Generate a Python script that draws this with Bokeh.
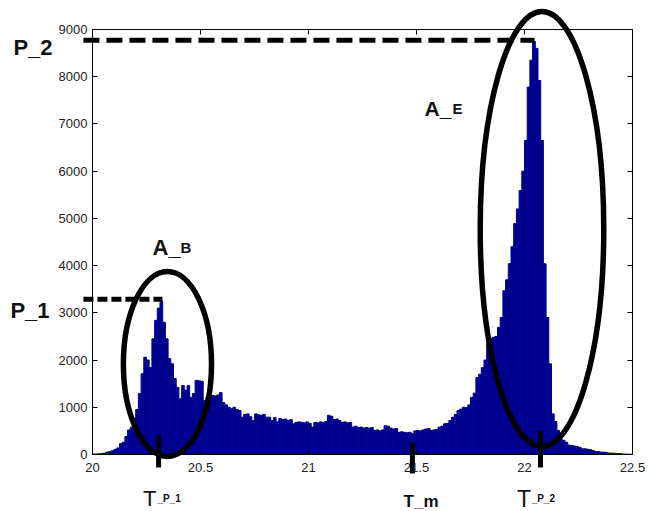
import numpy as np
from bokeh.plotting import figure
from bokeh.models import FixedTicker, LinearAxis, Label, Range1d
from bokeh.embed import file_html
from bokeh.resources import INLINE

# ---------------- data ----------------
bin_start = 20.0
bin_width = 0.0125
counts = [
    10, 10, 15, 20, 30, 50, 60, 80, 110, 140,
    230, 260, 380, 520, 580, 760, 950, 1290, 1710, 2060,
    2000, 1840, 2450, 2840, 3100, 3250, 2800, 2450, 2030, 1920,
    1610, 1420, 1180, 1460, 1360, 1460, 1210, 1290, 1570, 1560,
    1550, 1140, 1210, 1230, 1250, 1240, 1260, 1310, 1100, 1050,
    1000, 970, 1000, 950, 930, 790, 850, 860, 800, 720,
    860, 840, 830, 850, 790, 790, 720, 780, 690, 760,
    740, 750, 720, 740, 650, 680, 690, 680, 670, 690,
    660, 580, 680, 670, 690, 680, 700, 830, 810, 740,
    750, 720, 680, 690, 670, 680, 580, 600, 570, 580,
    560, 570, 560, 570, 510, 520, 500, 520, 610, 600,
    560, 540, 550, 470, 480, 470, 460, 470, 440, 500,
    510, 500, 520, 540, 550, 510, 520, 530, 580, 600,
    650, 660, 720, 790, 850, 930, 960, 1000, 990, 1050,
    1210, 1300, 1630, 1700, 1840, 2000, 2350, 2450, 2480, 2500,
    2690, 2900, 3470, 3700, 4040, 4400, 4890, 5200, 5590, 6000,
    6650, 7780, 8350, 8750, 8600, 7920, 6650, 4040, 2900, 1920,
    860, 700, 510, 330, 300, 260, 200, 190, 180, 170,
    150, 120, 120, 110, 100, 80, 60, 60, 50, 50,
    40, 30, 30, 25, 20, 20, 10, 10, 5, 5,
]
x_ticks = [20, 20.5, 21, 21.5, 22, 22.5]
x_tick_labels = ["20", "20.5", "21", "21.5", "22", "22.5"]
y_ticks = [0, 1000, 2000, 3000, 4000, 5000, 6000, 7000, 8000, 9000]
y_tick_labels = ["0", "1000", "2000", "3000", "4000", "5000", "6000", "7000", "8000", "9000"]
x_min, x_max = 20.0, 22.5
y_min, y_max = 0, 9000

# annotation values (data units)
p1_level = 3290
p2_level = 8770
p1_end = 20.324
p2_end = 22.046
line_start = 19.958
t_p1 = 20.306
t_m = 21.481
t_p2 = 22.074
ellipse_b = dict(x=20.347, y=1916, w=0.408, h=3918)
ellipse_e = dict(x=22.081, y=4775, w=0.572, h=9212)

# ---------------- figure ----------------
# plot box occupies pixels 92..632 (x) and 29..454 (y) of a 648x511 canvas;
# the data ranges are widened so annotations may sit outside the box.
W, H = 648, 511
box_l, box_r, box_t, box_b = 92, 632, 29, 454
sx = (x_max - x_min) / (box_r - box_l)
sy = (y_max - y_min) / (box_b - box_t)

BAR = "#00008f"
p = figure(width=W, height=H, output_backend="svg", toolbar_location=None,
           x_axis_location=None, y_axis_location=None,
           x_range=Range1d(x_min - box_l * sx, x_max + (W - box_r) * sx),
           y_range=Range1d(y_min - (H - box_b) * sy, y_max + box_t * sy),
           min_border=0)
p.background_fill_color = "white"
p.border_fill_color = "white"
p.outline_line_color = None
p.grid.visible = False

edges = bin_start + bin_width * np.arange(len(counts) + 1)
p.quad(left=edges[:-1], right=edges[1:], bottom=0, top=counts,
       fill_color=BAR, line_color=BAR, line_width=1)

def make_axis(ticks, labels, loc, fixed, bounds, show_labels, standoff):
    ax = LinearAxis(ticker=FixedTicker(ticks=ticks), fixed_location=fixed, bounds=bounds)
    ax.major_tick_in = 5
    ax.major_tick_out = 0
    ax.minor_tick_line_color = None
    ax.axis_line_color = "black"
    ax.major_tick_line_color = "black"
    ax.major_label_text_font = "Liberation Sans"
    ax.major_label_standoff = standoff
    if show_labels:
        ax.major_label_text_font_size = "13px"
        ax.major_label_text_color = "#222222"
        ax.major_label_overrides = {t: l for t, l in zip(ticks, labels)}
    else:
        ax.major_label_text_font_size = "1px"
        ax.major_label_text_color = None
    p.add_layout(ax, loc)

make_axis(x_ticks, x_tick_labels, "below", y_min, (x_min, x_max), True, 8)
make_axis(y_ticks, y_tick_labels, "left", x_min, (y_min, y_max), True, 5)
make_axis(x_ticks, x_tick_labels, "above", y_max, (x_min, x_max), False, 0)
make_axis(y_ticks, y_tick_labels, "right", x_max, (y_min, y_max), False, 0)

# dashed peak lines
p.segment(x0=[line_start], y0=[p2_level], x1=[p2_end], y1=[p2_level],
          line_color="black", line_width=5, line_dash="16 7")
p.segment(x0=[line_start], y0=[p1_level], x1=[p1_end], y1=[p1_level],
          line_color="black", line_width=5, line_dash="10 4")

# ellipses
for e in (ellipse_b, ellipse_e):
    p.ellipse(x=[e["x"]], y=[e["y"]], width=[e["w"]], height=[e["h"]],
              fill_color=None, line_color="black", line_width=5.5)

# T markers
tx = [t_p1, t_m, t_p2]
p.segment(x0=tx, y0=[400, 254, 508], x1=tx, y1=[-275, -402, -275],
          line_color="black", line_width=5)

# texts
FONT = "Liberation Sans"
def lab(x, y, text, size, style="bold"):
    p.add_layout(Label(x=x, y=y, text=text, text_font=FONT, text_font_size=size,
                       text_font_style=style, text_color="#111111",
                       text_align="left", text_baseline="alphabetic"))

lab(19.634, 8619, "P_2", "22px")
lab(19.620, 3049, "P_1", "22px")
lab(20.278, 4383, "A_", "22px")
lab(20.407, 4383, "B", "15px")
lab(21.537, 7327, "A_", "21px")
lab(21.667, 7327, "E", "15px")
lab(20.234, -932, "T", "22px", "normal")
lab(20.301, -932, "_P_1", "10px")
lab(21.440, -985, "T_m", "17px")
lab(21.965, -932, "T", "23px", "normal")
lab(22.033, -932, "_P_2", "10px")

open("out.html", "w").write(file_html(p, INLINE))
